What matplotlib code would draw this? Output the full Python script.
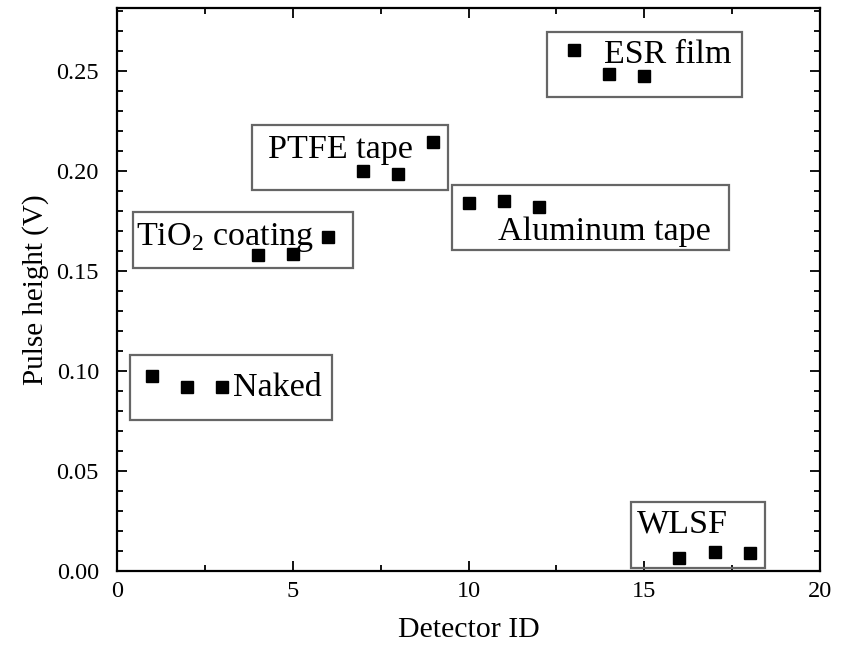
import matplotlib
matplotlib.use("Agg")
import matplotlib.pyplot as plt
from matplotlib.patches import Rectangle
from matplotlib.ticker import MultipleLocator, FormatStrFormatter

plt.rcParams['font.family'] = ['Liberation Serif', 'DejaVu Serif']
plt.rcParams['mathtext.fontset'] = 'custom'
plt.rcParams['mathtext.rm'] = 'Liberation Serif'

# Pulse height per detector, grouped by reflector treatment
detector_id = [1, 2, 3, 4, 5, 6, 7, 8, 9, 10, 11, 12, 13, 14, 15, 16, 17, 18]
pulse_height = [0.0975, 0.092, 0.092,
                0.158, 0.1585, 0.167,
                0.200, 0.1985, 0.2145,
                0.184, 0.185, 0.182,
                0.2605, 0.2485, 0.2475,
                0.0065, 0.0095, 0.009]

group_labels = ['Naked', r'TiO$_2$ coating', 'PTFE tape', 'Aluminum tape', 'ESR film', 'WLSF']

fig = plt.figure(figsize=(8.47, 6.47), dpi=100)
ax = fig.add_axes([117 / 847, 1 - 571 / 647, (820 - 117) / 847, (571 - 8) / 647])

ax.plot(detector_id, pulse_height, linestyle='none', marker='s', markersize=8,
        color='black', zorder=3)

# group boxes: (x0, y0, x1, y1) in data units
boxes = [(0.37, 0.0755, 6.12, 0.108),
         (0.455, 0.1515, 6.71, 0.1795),
         (3.84, 0.1905, 9.42, 0.223),
         (9.53, 0.1605, 17.41, 0.193),
         (12.23, 0.237, 17.78, 0.2695),
         (14.62, 0.0015, 18.43, 0.0345)]
# label anchor (left x, center y)
label_pos = [(3.3, 0.0915),
             (0.55, 0.1665),
             (4.3, 0.2105),
             (10.85, 0.1695),
             (13.85, 0.258),
             (14.8, 0.0235)]

for (x0, y0, x1, y1), (tx, ty), lab in zip(boxes, label_pos, group_labels):
    ax.add_patch(Rectangle((x0, y0), x1 - x0, y1 - y0, fill=False,
                           edgecolor='#666666', linewidth=1.6, zorder=2))
    ax.text(tx, ty, lab, fontsize=24.5, ha='left', va='center', zorder=4)

ax.set_xlim(0, 20)
ax.set_ylim(0, 0.2815)
ax.xaxis.set_major_locator(MultipleLocator(5))
ax.xaxis.set_minor_locator(MultipleLocator(2.5))
ax.yaxis.set_major_locator(MultipleLocator(0.05))
ax.yaxis.set_minor_locator(MultipleLocator(0.01))
ax.yaxis.set_major_formatter(FormatStrFormatter('%.2f'))

ax.tick_params(which='both', direction='in', top=True, right=True, width=1.3,
               labelsize=17.5)
ax.tick_params(which='major', length=7)
ax.tick_params(axis='x', which='major', pad=7)
ax.tick_params(axis='y', which='major', pad=13)
ax.tick_params(which='minor', length=4)
for s in ax.spines.values():
    s.set_linewidth(1.6)

ax.set_xlabel('Detector ID', fontsize=21.5, labelpad=11)
ax.set_ylabel('Pulse height (V)', fontsize=21, labelpad=5)

fig.savefig('out.png', dpi=100)
